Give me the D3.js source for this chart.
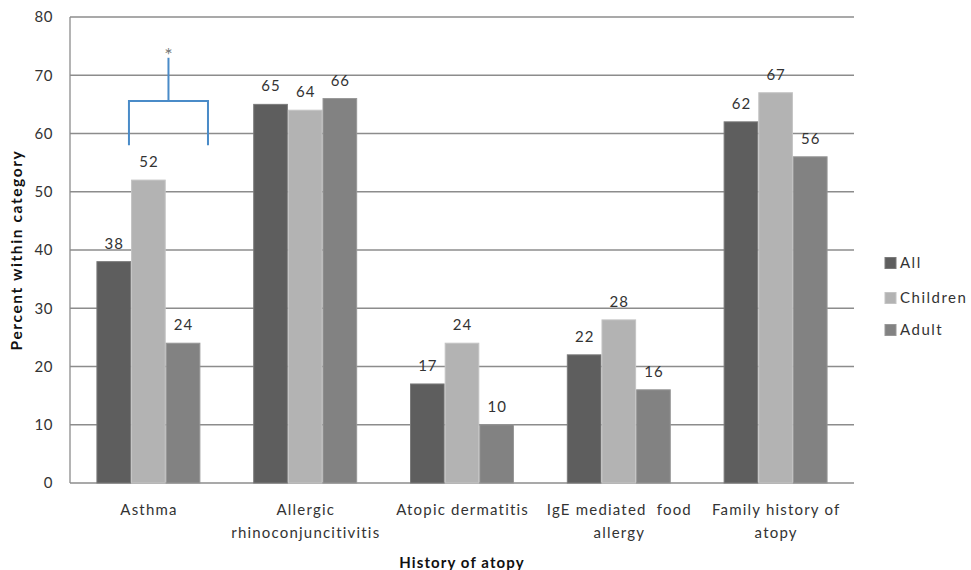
<!DOCTYPE html>
<html><head><meta charset="utf-8">
<script src="https://cdn.jsdelivr.net/npm/d3@7"></script>
<style>body{margin:0;background:#fff;}svg{display:block;font-family:Lato, "Open Sans", sans-serif;}</style>
</head><body>
<svg id="c" width="971" height="570"></svg>
<script>
const categories = ["Asthma","Allergic rhinoconjuncitivitis","Atopic dermatitis","IgE mediated food allergy","Family history of atopy"];
const categoryLines = [["Asthma"],["Allergic","rhinoconjuncitivitis"],["Atopic dermatitis"],["IgE mediated  food","allergy"],["Family history of","atopy"]];
const series = ["All","Children","Adult"];
const allValues = [38,65,17,22,62];
const childrenValues = [52,64,24,28,67];
const adultValues = [24,66,10,16,56];
const yTicks = [0,10,20,30,40,50,60,70,80];
const colors = {All:"#5e5e5e", Children:"#b3b3b3", Adult:"#828282"};
const strokes = {All:"#7a7a7a", Children:"#c4c4c4", Adult:"#979797"};

const valuesBySeries = {All:allValues, Children:childrenValues, Adult:adultValues};
const svg = d3.select("#c");
const L=70,R=854,T=17,B=483;
const LS = 1.2;
const y = d3.scaleLinear().domain([0,80]).range([B,T]);
const x0 = d3.scaleBand().domain(categories).range([L,R]).paddingInner(0.337).paddingOuter(0.1685);
const x1 = d3.scaleBand().domain(series).range([0,x0.bandwidth()]);

// gridlines
svg.append("g").selectAll("line").data(yTicks).join("line")
  .attr("x1",L).attr("x2",R).attr("y1",d=>y(d)).attr("y2",d=>y(d))
  .attr("stroke","#8c8c8c").attr("stroke-width",1.3);
// left axis
svg.append("line").attr("x1",L).attr("x2",L).attr("y1",T).attr("y2",B).attr("stroke","#8c8c8c").attr("stroke-width",1.3);

// y tick labels
svg.append("g").selectAll("text").data(yTicks).join("text")
  .attr("x",53).attr("y",d=>y(d)).attr("dy","0.36em").attr("text-anchor","end")
  .attr("font-size",15).attr("letter-spacing",0.6).attr("fill","#333").text(d=>d);

// bars
const rows = categories.map((c,i)=>({c, vals: series.map(s=>({s, v: valuesBySeries[s][i]}))}));
const g = svg.append("g").selectAll("g").data(rows).join("g").attr("transform",d=>`translate(${x0(d.c)},0)`);
g.selectAll("rect").data(d=>d.vals).join("rect")
  .attr("x",d=>x1(d.s)+0.5).attr("width",x1.bandwidth()-1)
  .attr("y",d=>y(d.v)).attr("height",d=>B-y(d.v))
  .attr("fill",d=>colors[d.s]).attr("stroke",d=>strokes[d.s]).attr("stroke-width",1);
g.selectAll("text").data(d=>d.vals).join("text")
  .attr("x",d=>x1(d.s)+x1.bandwidth()/2+0.5).attr("y",d=>y(d.v)-13)
  .attr("text-anchor","middle").attr("font-size",15).attr("letter-spacing",1).attr("fill","#333").text(d=>d.v);

// category labels
svg.append("g").selectAll("text").data(categories).join("text")
  .attr("x",d=>x0(d)+x0.bandwidth()/2).attr("y",515)
  .attr("text-anchor","middle").attr("font-size",15).attr("letter-spacing",LS).attr("fill","#333")
  .each(function(d,i){
    const t=d3.select(this);
    categoryLines[i].forEach((ln,j)=>t.append("tspan").attr("x",x0(d)+x0.bandwidth()/2+LS/2).attr("dy",j?23:0).attr("xml:space","preserve").text(ln));
  });

// axis titles
svg.append("text").attr("x",(L+R)/2).attr("y",568).attr("text-anchor","middle")
  .attr("font-size",15).attr("font-weight","bold").attr("letter-spacing",1.1).attr("fill","#111").text("History of atopy");
svg.append("text").attr("transform","translate(22,250) rotate(-90)").attr("text-anchor","middle")
  .attr("font-size",15.5).attr("font-weight","bold").attr("letter-spacing",1.6).attr("fill","#111").text("Percent within category");

// significance bracket
const bw = x0.step();
const xl = L + bw*0.376, xr = L + bw*0.88, xm = (xl+xr)/2;
const br2 = svg.append("g").attr("stroke","#4a8bc8").attr("stroke-width",2).attr("fill","none");
br2.append("path").attr("d",`M${xl},${y(58)}V${y(65.6)}H${xr}V${y(58)}`);
br2.append("line").attr("x1",xm).attr("x2",xm).attr("y1",y(65.6)).attr("y2",y(73));
svg.append("text").attr("x",xm).attr("y",y(72.2)).attr("text-anchor","middle")
  .attr("font-size",20).attr("fill","#777").text("*");

// legend
const lg = svg.append("g").selectAll("g").data(series).join("g")
  .attr("transform",(d,i)=>`translate(885,${[263,298,330][i]})`);
lg.append("rect").attr("x",0).attr("y",-5.5).attr("width",11).attr("height",11).attr("fill",d=>colors[d]).attr("stroke",d=>strokes[d]);
lg.append("text").attr("x",15).attr("dy","0.36em").attr("font-size",15).attr("letter-spacing",1.5).attr("fill","#333").text(d=>d);
</script>
</body></html>
